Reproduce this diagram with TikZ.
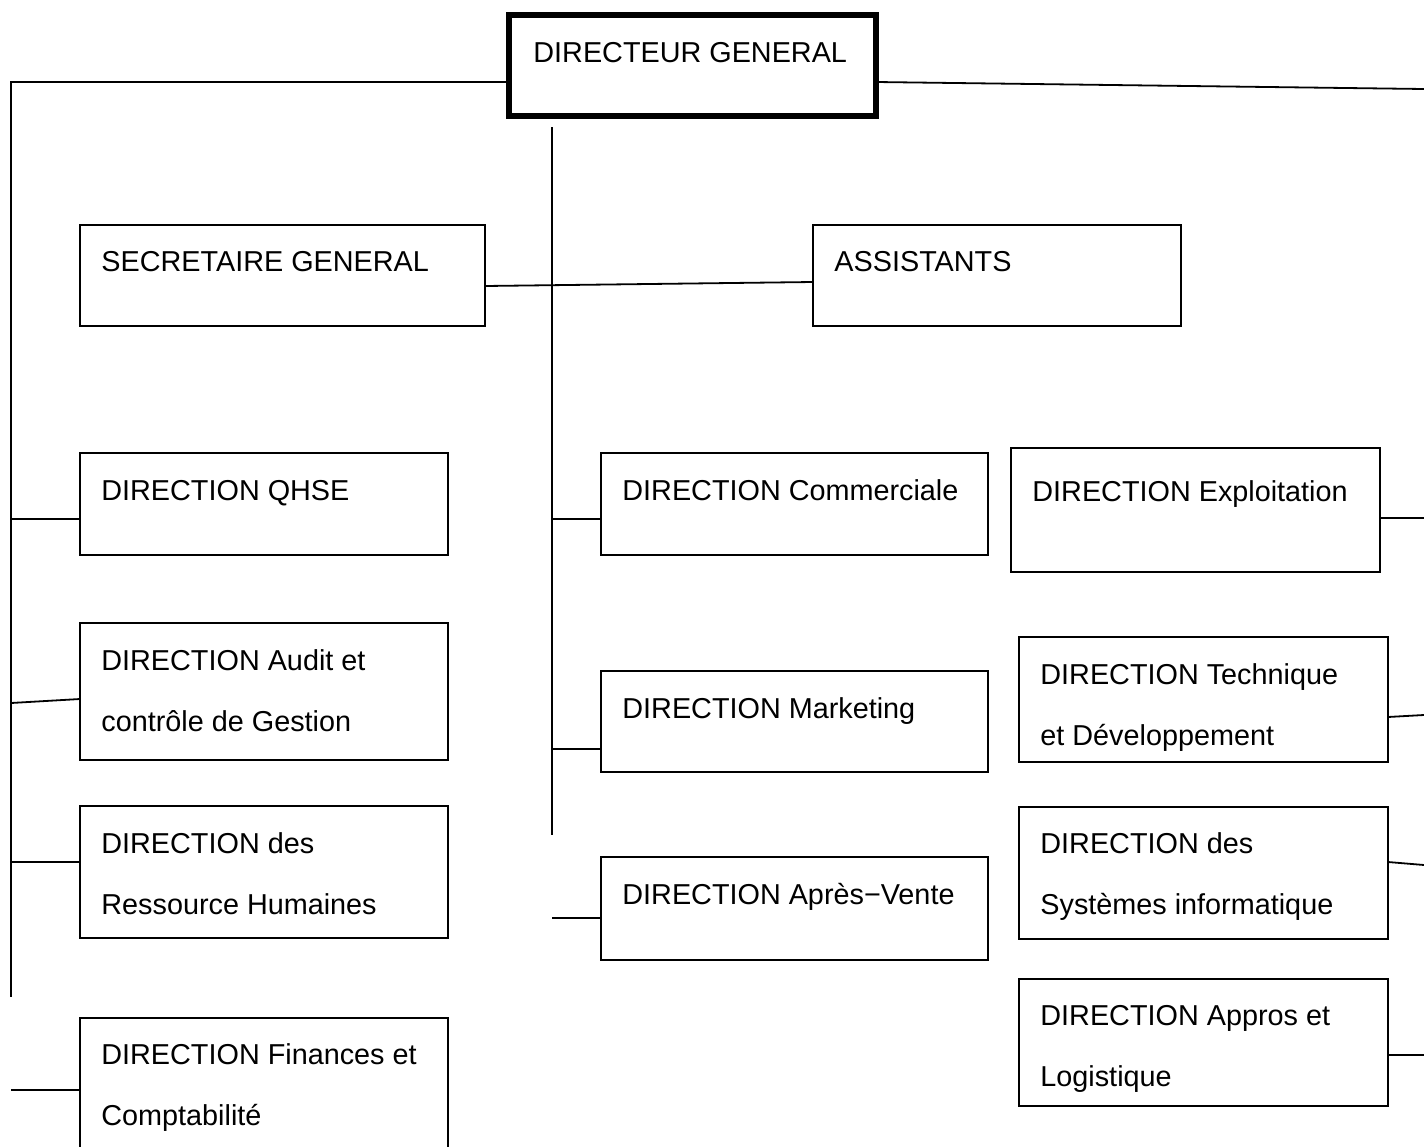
\documentclass[tikz,border=0pt]{standalone}
\usepackage{fontspec}
\setmainfont{Liberation Sans}

\tikzset{
	poste/.style={draw, line width=1.2pt, anchor=north west, outer sep=0pt, inner sep=0pt},
	intitule/.style={anchor=base west, inner sep=0pt, xshift=10.5pt, yshift=-23.5pt, font=\fontsize{14.4}{30.5}\selectfont},
	lien/.style={line width=0.9pt},
}

\begin{document}
\begin{tikzpicture}[x=0.5pt, y=-0.5pt]
		\useasboundingbox (0,0) rectangle (1424,1146);
		% direction generale et secretariat
		\node (dg) [poste, line width=3pt, minimum width=183.5pt, minimum height=50.75pt, label={[intitule, xshift=1.5pt, yshift=-0.25pt]north west:DIRECTEUR GENERAL}] at (509,14.5) {};
		\node (sg) [poste, minimum width=202.5pt, minimum height=50.5pt, label={[intitule, yshift=0.5pt]north west:SECRETAIRE GENERAL}] at (80,225) {};
		\node (assistants) [poste, minimum width=184pt, minimum height=50.5pt, label={[intitule, yshift=0.5pt]north west:ASSISTANTS}] at (813,225) {};
		% colonne de gauche
		\node (qhse) [poste, minimum width=184pt, minimum height=51pt, label={[intitule]north west:DIRECTION QHSE}] at (80,453) {};
		\node (audit) [poste, minimum width=184pt, minimum height=68.5pt, label={[intitule]north west:\parbox[t]{175pt}{DIRECTION Audit et\\contrôle de Gestion}}] at (80,623) {};
		\node (rh) [poste, minimum width=184pt, minimum height=66pt, label={[intitule]north west:\parbox[t]{175pt}{DIRECTION des\\Ressource Humaines}}] at (80,806) {};
		\node (finances) [poste, minimum width=184pt, minimum height=71pt, label={[intitule, yshift=0.5pt]north west:\parbox[t]{175pt}{DIRECTION Finances et\\Comptabilité}}] at (80,1018) {};
		% colonne du milieu
		\node (commerciale) [poste, minimum width=193.5pt, minimum height=51pt, label={[intitule]north west:DIRECTION Commerciale}] at (601,453) {};
		\node (marketing) [poste, minimum width=193.5pt, minimum height=50.5pt, label={[intitule]north west:DIRECTION Marketing}] at (601,671) {};
		\node (apresvente) [poste, minimum width=193.5pt, minimum height=51.5pt, label={[intitule]north west:DIRECTION Après−Vente}] at (601,857) {};
		% colonne de droite
		\node (exploitation) [poste, minimum width=184.5pt, minimum height=62pt, label={[intitule, yshift=-3pt]north west:DIRECTION Exploitation}] at (1011,448) {};
		\node (technique) [poste, minimum width=184.5pt, minimum height=62.5pt, label={[intitule]north west:\parbox[t]{175pt}{DIRECTION Technique\\et Développement}}] at (1019,637) {};
		\node (si) [poste, minimum width=184.5pt, minimum height=66pt, label={[intitule, yshift=0.5pt]north west:\parbox[t]{175pt}{DIRECTION des\\Systèmes informatique}}] at (1019,807) {};
		\node (appros) [poste, minimum width=184.5pt, minimum height=63.5pt, label={[intitule, yshift=0.5pt]north west:\parbox[t]{175pt}{DIRECTION Appros et\\Logistique}}] at (1019,979) {};
		% liaisons
		\coordinate (hg) at (11,82);
		\coordinate (bg) at (11,997);
		\coordinate (hd) at (1424,89);
		\coordinate (cb1) at (552,127);
		\coordinate (cb2) at (552,835);
		\draw [lien] (dg.west |- hg) -- (hg) -- (bg);
		\draw [lien] (dg.east |- hg) -- (hd);
		\draw [lien] (cb1) -- (cb2);
		\draw [lien] ([yshift=-5.25pt]sg.east) -- ([yshift=-3.25pt]assistants.west);
		\draw [lien] ([yshift=-7.5pt]qhse.west) -- +(-69,0);
		\draw [lien] ([yshift=-3.75pt]audit.west) -- +(-69,4);
		\draw [lien] ([yshift=5pt]rh.west) -- +(-69,0);
		\draw [lien] ([yshift=-0.5pt]finances.west) -- +(-69,0);
		\draw [lien] ([yshift=-7.5pt]commerciale.west) -- +(-49,0);
		\draw [lien] ([yshift=-13.75pt]marketing.west) -- +(-49,0);
		\draw [lien] ([yshift=-4.75pt]apresvente.west) -- +(-49,0);
		\draw [lien] ([yshift=-4pt]exploitation.east) -- +(44,0);
		\draw [lien] ([yshift=-8.75pt]technique.east) -- +(36,-2);
		\draw [lien] ([yshift=5.5pt]si.east) -- +(36,3);
		\draw [lien] ([yshift=-6.25pt]appros.east) -- +(36,0);
	\end{tikzpicture}
\end{document}
